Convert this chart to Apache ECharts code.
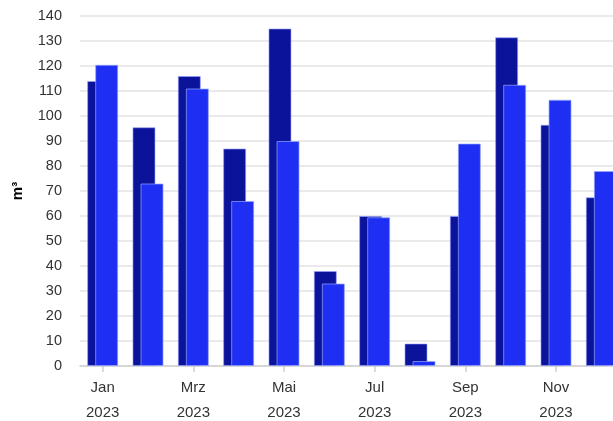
<!DOCTYPE html>
<html><head><meta charset="utf-8">
<script src="https://cdn.jsdelivr.net/npm/echarts@6/dist/echarts.min.js"></script>
<style>html,body{margin:0;padding:0;background:#fff}#c{width:613px;height:421px}</style>
</head><body><div id="c"></div>
<script>
const months = ['Jan','Feb','Mrz','Apr','Mai','Jun','Jul','Aug','Sep','Okt','Nov','Dez'];
const year = '2023';
const seriesA = [114, 95.5, 116, 87, 135, 38, 60, 9, 60, 131.5, 96.5, 67.5];
const seriesB = [120.5, 73, 111, 66, 90, 33, 59.5, 2, 89, 112.5, 106.5, 78];
const yTicks = {min: 0, max: 140, interval: 10};
const yName = 'm³';

const chart = echarts.init(document.getElementById('c'), null, {renderer: 'canvas'});
const font = 'Liberation Sans, Arial, sans-serif';
chart.setOption({
  animation: false,
  grid: {left: 80, top: 16, width: 544, height: 350, containLabel: false, outerBoundsMode: 'none'},
  xAxis: {
    type: 'category',
    data: months,
    axisLine: {lineStyle: {color: '#d0d0d0', width: 1.5}},
    axisTick: {show: true, interval: 1, alignWithLabel: true, length: 6, lineStyle: {color: '#d0d0d0', width: 1.5}},
    axisLabel: {
      interval: 1, color: '#333', fontFamily: font, fontSize: 15, lineHeight: 25, margin: 9,
      formatter: v => v + '\n' + year
    }
  },
  yAxis: {
    type: 'value', min: yTicks.min, max: yTicks.max, interval: yTicks.interval,
    name: yName, nameLocation: 'middle', nameGap: 55, nameRotate: 90,
    nameTextStyle: {color: '#000', fontFamily: font, fontSize: 15, fontWeight: 'bold'},
    axisLine: {show: false}, axisTick: {show: false},
    axisLabel: {color: '#333', fontFamily: font, fontSize: 14.5, margin: 18},
    splitLine: {lineStyle: {color: '#e3e3e3', width: 1.5}}
  },
  series: [
    {type: 'bar', data: seriesA, barWidth: 23, barGap: '-65%',
     itemStyle: {color: '#0b139b', borderColor: 'rgba(150,160,255,0.6)', borderWidth: 1}},
    {type: 'bar', data: seriesB, barWidth: 23,
     itemStyle: {color: '#1e2ef2', borderColor: 'rgba(150,170,255,0.7)', borderWidth: 1}}
  ]
});
</script></body></html>
